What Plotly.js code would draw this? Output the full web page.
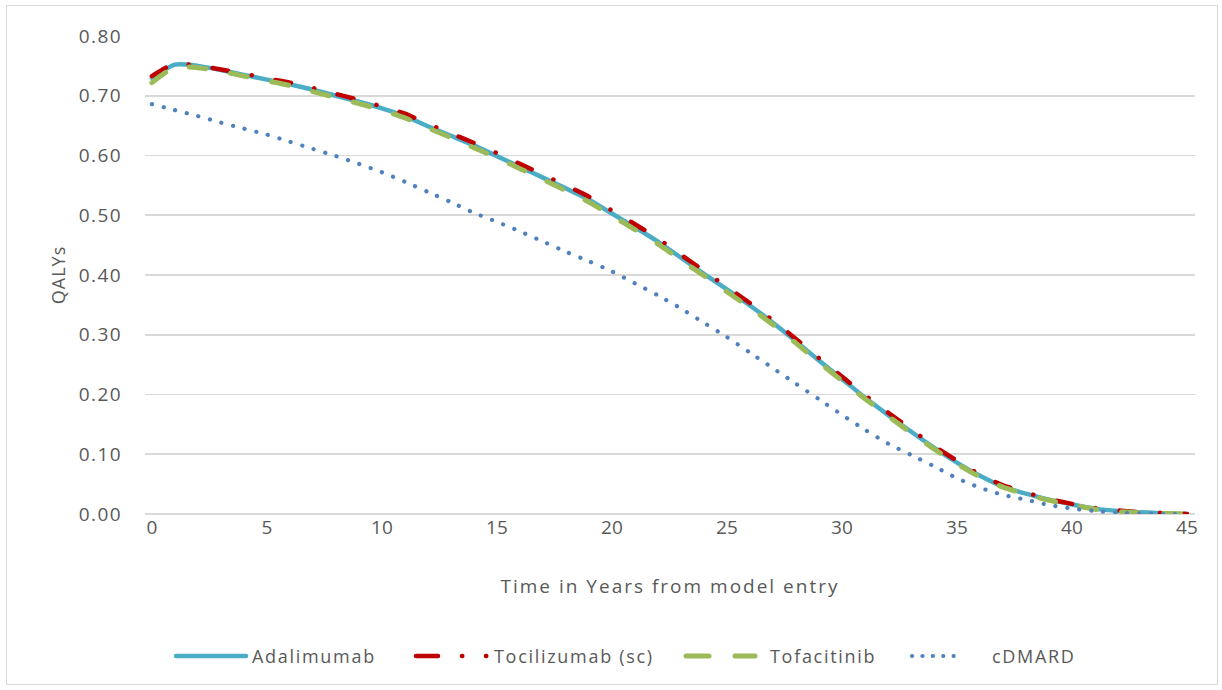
<!DOCTYPE html>
<html>
<head>
<meta charset="utf-8">
<script src="https://cdn.plot.ly/plotly-3.0.1.min.js"></script>
<style>
  html, body { margin: 0; padding: 0; background: #ffffff; }
  #wrap { position: relative; width: 1222px; height: 690px; }
  #chart { position: absolute; left: 0; top: 0; width: 1222px; height: 690px; }
  #frame { position: absolute; left: 6px; top: 5px; width: 1212px; height: 680px;
           border: 1px solid #d9d9d9; pointer-events: none; box-sizing: border-box; }
</style>
</head>
<body>
<div id="wrap"><div id="chart"></div><div id="frame"></div></div>
<script>
// ---------- data ----------
const years = [0,1,2,3,4,5,6,7,8,9,10,11,12,13,14,15,16,17,18,19,20,21,22,23,24,25,26,27,28,29,30,31,32,33,34,35,36,37,38,39,40,41,42,43,44,45];

const adalimumab = [0.730,0.752,0.750,0.743,0.735,0.727,0.719,0.710,0.700,0.690,0.679,0.666,0.649,0.633,0.617,0.599,0.581,0.563,0.545,0.526,0.503,0.480,0.456,0.429,0.402,0.376,0.349,0.320,0.289,0.257,0.226,0.195,0.166,0.138,0.111,0.086,0.064,0.046,0.034,0.024,0.016,0.009,0.005,0.003,0.001,0.000];

const tocilizumab = [0.733,0.754,0.750,0.744,0.737,0.729,0.722,0.713,0.703,0.693,0.682,0.670,0.653,0.637,0.621,0.604,0.586,0.568,0.550,0.531,0.508,0.485,0.461,0.434,0.407,0.380,0.353,0.324,0.293,0.261,0.230,0.199,0.170,0.142,0.114,0.089,0.066,0.048,0.036,0.025,0.017,0.010,0.006,0.003,0.002,0.000];

const tofacitinib = [0.722,0.748,0.747,0.741,0.733,0.725,0.717,0.707,0.697,0.687,0.676,0.663,0.646,0.630,0.613,0.596,0.578,0.560,0.541,0.522,0.499,0.476,0.452,0.425,0.399,0.372,0.345,0.317,0.286,0.254,0.223,0.193,0.164,0.136,0.109,0.084,0.062,0.045,0.033,0.023,0.015,0.008,0.004,0.002,0.001,0.000];

const cdmard = [0.686,0.676,0.666,0.655,0.645,0.635,0.623,0.611,0.599,0.586,0.572,0.556,0.539,0.522,0.504,0.489,0.473,0.456,0.439,0.423,0.406,0.386,0.366,0.344,0.320,0.296,0.270,0.244,0.218,0.192,0.166,0.141,0.118,0.099,0.080,0.060,0.044,0.032,0.024,0.015,0.009,0.005,0.002,0.001,0.000,0.000];

const seriesNames = ["Adalimumab", "Tocilizumab (sc)", "Tofacitinib", "cDMARD"];
const xTickVals = [0,5,10,15,20,25,30,35,40,45];
const yTickVals = [0,0.1,0.2,0.3,0.4,0.5,0.6,0.7,0.8];
const xTitle = "Time in Years from model entry";
const yTitle = "QALYs";

// ---------- styles ----------
const FONT = "Open Sans, Liberation Sans, sans-serif";
const TXT = "#595959";
const colors = ["#4BACC6", "#C00000", "#9BBB59", "#4F81BD"];

const traces = [
  {x: years, y: adalimumab, name: seriesNames[0], type: "scatter", mode: "lines",
   line: {color: colors[0], width: 4.5, shape: "spline", smoothing: 0.6}},
  {x: years, y: tocilizumab, name: seriesNames[1], type: "scatter", mode: "lines",
   line: {color: colors[1], width: 4.5, shape: "spline", smoothing: 0.6, dash: "16px,24px,0.1px,24px"}},
  {x: years, y: tofacitinib, name: seriesNames[2], type: "scatter", mode: "lines",
   line: {color: colors[2], width: 5, shape: "spline", smoothing: 0.6, dash: "17px,25px"}},
  {x: years, y: cdmard, name: seriesNames[3], type: "scatter", mode: "lines",
   line: {color: colors[3], width: 4.2, shape: "spline", smoothing: 0.6, dash: "0.1px,11.9px"}}
];

// plot area in px: left 145, right 1195, top 36, bottom 514
const PL = 145, PW = 1050, PB = 514, PH = 478;
const px = v => (v - PL) / PW;
const py = v => (PB - v) / PH;
const LY = 656;

const shapes = [
  {type: "line", xref: "paper", yref: "paper", x0: px(176), x1: px(246), y0: py(LY), y1: py(LY),
   line: {color: colors[0], width: 4.5}},
  {type: "line", xref: "paper", yref: "paper", x0: px(416), x1: px(438), y0: py(LY), y1: py(LY),
   line: {color: colors[1], width: 4.5}},
  {type: "line", xref: "paper", yref: "paper", x0: px(462), x1: px(462.3), y0: py(LY), y1: py(LY),
   line: {color: colors[1], width: 4.5}},
  {type: "line", xref: "paper", yref: "paper", x0: px(486), x1: px(486.3), y0: py(LY), y1: py(LY),
   line: {color: colors[1], width: 4.5}},
  {type: "line", xref: "paper", yref: "paper", x0: px(686), x1: px(709), y0: py(LY), y1: py(LY),
   line: {color: colors[2], width: 5}},
  {type: "line", xref: "paper", yref: "paper", x0: px(735), x1: px(755), y0: py(LY), y1: py(LY),
   line: {color: colors[2], width: 5}},
  {type: "line", xref: "paper", yref: "paper", x0: px(912), x1: px(964), y0: py(LY), y1: py(LY),
   line: {color: colors[3], width: 4.2, dash: "0.1px,10.3px"}}
];

const legendX = [250, 492, 768, 990];
const annotations = seriesNames.map((n, i) => ({
  text: n, xref: "paper", yref: "paper", x: px(legendX[i]), y: py(LY),
  xanchor: "left", yanchor: "middle", align: "left", showarrow: false,
  font: {family: FONT, size: 18, color: TXT}
}));

const layout = {
  width: 1222, height: 690,
  margin: {l: PL, r: 1222 - PL - PW, t: 36, b: 690 - PB},
  paper_bgcolor: "#ffffff", plot_bgcolor: "#ffffff",
  showlegend: false,
  font: {family: FONT, color: TXT, size: 18},
  xaxis: {
    range: [-0.3, 45.35], tickvals: xTickVals, ticktext: xTickVals.map(String),
    showgrid: false, zeroline: false, showline: false, ticks: "",
    tickfont: {family: FONT, size: 19, color: TXT},
    title: {text: xTitle, font: {family: FONT, size: 19, color: TXT}, standoff: 40},
    automargin: false, fixedrange: true
  },
  yaxis: {
    range: [0, 0.8], tickvals: yTickVals, tickformat: ".2f",
    showgrid: true, gridcolor: "#d9d9d9", gridwidth: 1.6,
    zeroline: true, zerolinecolor: "#d9d9d9", zerolinewidth: 1.6,
    showline: false, ticks: "", ticklabelstandoff: 22,
    tickfont: {family: FONT, size: 19, color: TXT},
    title: {text: yTitle, font: {family: FONT, size: 18, color: TXT}, standoff: 14},
    automargin: false, fixedrange: true
  },
  shapes: shapes,
  annotations: annotations
};

Plotly.newPlot("chart", traces, layout, {displayModeBar: false, staticPlot: true}).then(() => {
  document.querySelectorAll(".scatterlayer .js-line, .shapelayer path").forEach(p => {
    p.style.strokeLinecap = "round";
    p.style.strokeLinejoin = "round";
  });
  // the reference text is set loosely; widen the letter spacing to match
  document.querySelectorAll(".g-xtitle text").forEach(t => { t.style.letterSpacing = "2px"; });
  document.querySelectorAll(".g-ytitle text").forEach(t => { t.style.letterSpacing = "1px"; });
  document.querySelectorAll(".annotation-text").forEach(t => { t.style.letterSpacing = "1.7px"; });
  document.querySelectorAll(".ytick text").forEach(t => { t.style.letterSpacing = "1.4px"; });
});
</script>
</body>
</html>
